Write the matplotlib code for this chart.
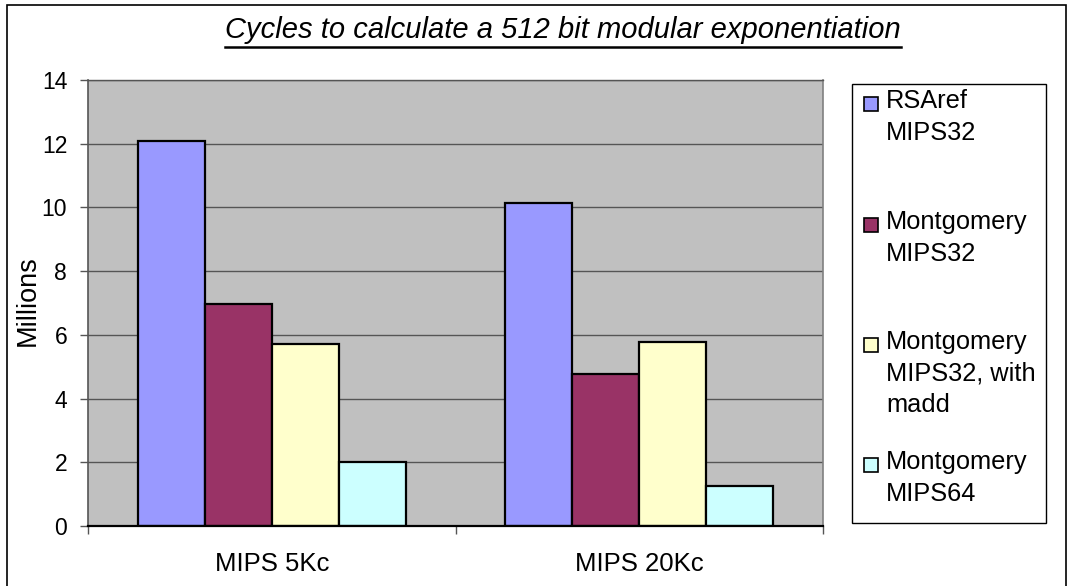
import matplotlib
matplotlib.use("Agg")
import matplotlib.pyplot as plt
from matplotlib.patches import Rectangle
import numpy as np

categories = ["MIPS 5Kc", "MIPS 20Kc"]
series_labels = ["RSAref\nMIPS32", "Montgomery\nMIPS32", "Montgomery\nMIPS32, with\nmadd", "Montgomery\nMIPS64"]
rsaref = [12.1, 10.15]
mont32 = [6.97, 4.76]
mont32_madd = [5.71, 5.77]
mont64 = [2.0, 1.26]
series_values = [rsaref, mont32, mont32_madd, mont64]
colors = ["#9999FF", "#993366", "#FFFFCC", "#CCFFFF"]
yticks = [0, 2, 4, 6, 8, 10, 12, 14]

plt.rcParams['font.family'] = ['Liberation Sans', 'DejaVu Sans']

W, H = 1071, 586
fig = plt.figure(figsize=(W / 100, H / 100), dpi=100)

def fx(px):
    return px / W

def fy(py):
    return 1 - py / H

# outer border
fig.patches.append(Rectangle((fx(7), fy(590)), fx(1066) - fx(7), fy(5) - fy(590),
                             transform=fig.transFigure, fill=False, edgecolor="black", lw=1.2))

ax = fig.add_axes([fx(88), fy(526), fx(823) - fx(88), fy(80) - fy(526)])
ax.set_facecolor("#C0C0C0")
ax.set_xlim(-0.5, 1.5)
ax.set_ylim(0, 14)

n = len(series_values)
bw = 0.182
x = np.arange(len(categories))
for i, (vals, c) in enumerate(zip(series_values, colors)):
    ax.bar(x + (i - (n - 1) / 2) * bw, vals, width=bw, color=c, edgecolor="black",
           linewidth=1.6, zorder=3)

ax.set_yticks(yticks)
ax.set_yticklabels([str(t) for t in yticks], fontsize=16.5)
ax.yaxis.grid(True, color="#555555", linewidth=1.0, zorder=1)
ax.set_axisbelow(True)
ax.tick_params(axis="y", direction="out", length=6, width=1, color="#555555", pad=9)
ax.set_xticks([-0.5, 0.5, 1.5])
ax.set_xticklabels([])
ax.set_xticks(x, minor=True)
ax.set_xticklabels(categories, minor=True, fontsize=18.5)
ax.tick_params(axis="x", which="major", direction="out", length=6, width=1, color="#555555")
ax.tick_params(axis="x", which="minor", length=0, pad=19)
ax.spines["left"].set_color("#555555")
ax.spines["left"].set_linewidth(1.2)
ax.spines["bottom"].set_color("black")
ax.spines["bottom"].set_linewidth(1.6)
ax.spines["bottom"].set_zorder(4)
ax.spines["right"].set_color("#808080")
ax.spines["right"].set_linewidth(1.2)
ax.spines["top"].set_color("#555555")
ax.spines["top"].set_linewidth(1.0)

fig.text(fx(28), fy(301), "Millions", rotation=90,
         ha="center", va="center", fontsize=19.5)

# title with underline
t = fig.text(fx(563), fy(38), "Cycles to calculate a 512 bit modular exponentiation",
             ha="center", va="baseline", fontsize=21, style="italic")
fig.canvas.draw()
bb = t.get_window_extent()
fig.lines.append(plt.Line2D([bb.x0 / W, bb.x1 / W], [fy(46.5), fy(46.5)],
                            transform=fig.transFigure, color="black", lw=1.8))

# legend box
fig.patches.append(Rectangle((fx(852), fy(523)), fx(1046) - fx(852), fy(84) - fy(523),
                             transform=fig.transFigure, fill=True, facecolor="white",
                             edgecolor="black", lw=1.0))
entry_y = [90, 211, 331, 451]
for lab, c, yy in zip(series_labels, colors, entry_y):
    fig.patches.append(Rectangle((fx(864), fy(yy + 21)), fx(14) - fx(0), fy(0) - fy(14),
                                 transform=fig.transFigure, facecolor=c,
                                 edgecolor="black", lw=1.2))
    fig.text(fx(886), fy(yy - 1), lab, ha="left", va="top", fontsize=18.3, linespacing=1.4)

fig.savefig("out.png", dpi=100)
